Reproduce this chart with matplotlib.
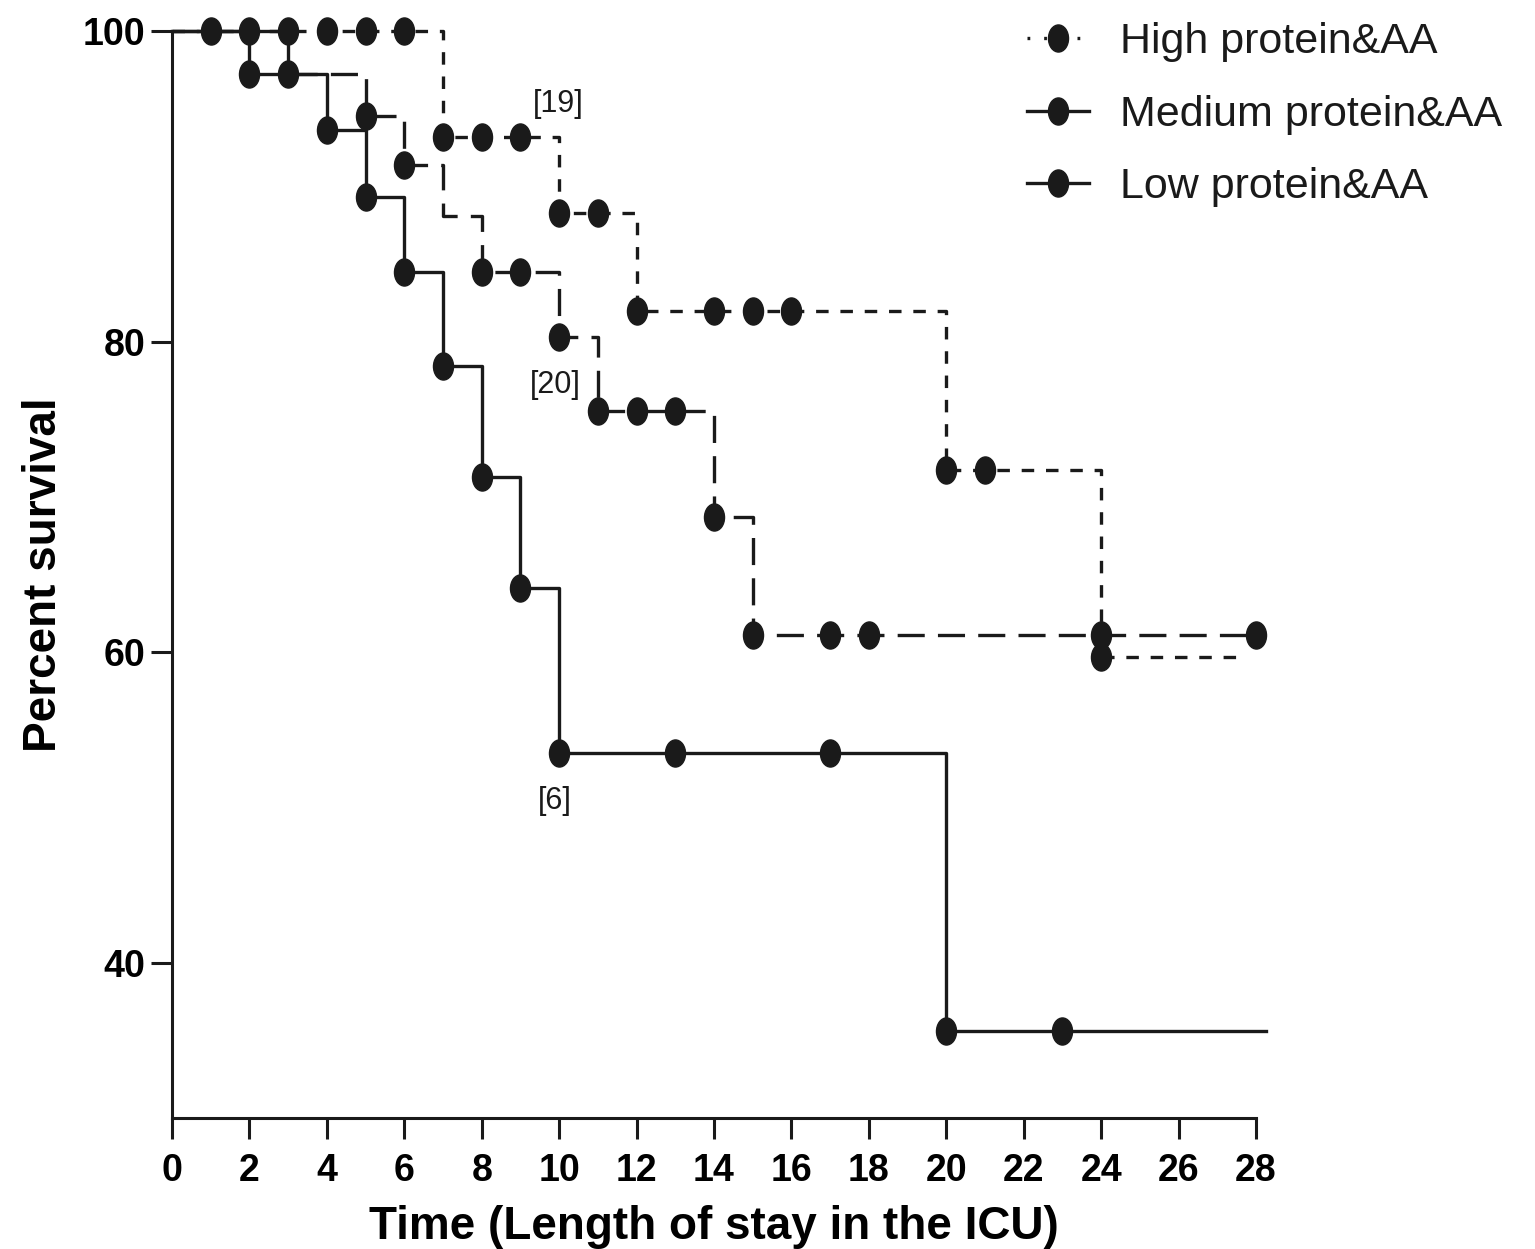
import matplotlib
matplotlib.use("Agg")
import matplotlib.pyplot as plt
from matplotlib import font_manager
from matplotlib.path import Path
from matplotlib.lines import Line2D

# ---------------- data ----------------
# Step curves: (time, percent survival) breakpoints
high_t = [0, 7, 10, 12, 20, 24, 27.6]
high_s = [100, 93.2, 88.3, 82.0, 71.7, 59.7, 59.7]
high_mark_t = [1, 2, 3, 4, 5, 6, 7, 8, 9, 10, 11, 12, 14, 15, 16, 20, 21, 24]

med_t = [0, 3, 5, 6, 7, 8, 10, 11, 14, 15, 28]
med_s = [100, 97.2, 94.5, 91.4, 88.1, 84.5, 80.3, 75.5, 68.7, 61.1, 61.1]
med_mark_t = [3, 5, 6, 8, 9, 10, 11, 12, 13, 14, 15, 17, 18, 24, 28]

low_t = [0, 2, 4, 5, 6, 7, 8, 9, 10, 20, 28.25]
low_s = [100, 97.2, 93.6, 89.3, 84.5, 78.4, 71.3, 64.1, 53.5, 35.6, 35.6]
low_mark_t = [2, 4, 5, 6, 7, 8, 9, 10, 13, 17, 20, 23]

series_names = ["High protein&AA", "Medium protein&AA", "Low protein&AA"]
annotations = [("[19]", 9.97, 95.3), ("[20]", 9.9, 77.2), ("[6]", 9.9, 50.4)]

x_ticks = list(range(0, 29, 2))
y_ticks = [40, 60, 80, 100]

# ---------------- helpers ----------------
def step_value(ts, ss, t):
    v = ss[0]
    for ti, si in zip(ts, ss):
        if t >= ti:
            v = si
    return v

avail = {f.name for f in font_manager.fontManager.ttflist}
narrow = "Liberation Sans Narrow" if "Liberation Sans Narrow" in avail else "Liberation Sans"
regular = "Liberation Sans"

plt.rcParams["lines.scale_dashes"] = False

# elliptical marker (taller than wide)
circ = Path.unit_circle()
ell = Path(circ.vertices * [0.74, 1.0], circ.codes)

INK = "#1a1a1a"
fig = plt.figure(figsize=(15.35, 12.49), dpi=100)
ax = fig.add_axes([172/1535, 1 - 1118/1249, (1256-172)/1535, (1118-31)/1249])

lw = 2.4
ms = 19.5
styles = [
    dict(dashes=(9.0, 8.5)),
    dict(dashes=(19.5, 9.5)),
    dict(linestyle="-"),
]
data = [(high_t, high_s, high_mark_t), (med_t, med_s, med_mark_t), (low_t, low_s, low_mark_t)]

for (ts, ss, mts), st in zip(data, styles):
    ax.step(ts, ss, where="post", color=INK, lw=lw, clip_on=False, **st)
    my = [step_value(ts, ss, t) for t in mts]
    ax.plot(mts, my, linestyle="none", marker=ell, markersize=ms,
            color=INK, clip_on=False, zorder=5)

for txt, x, y in annotations:
    ax.text(x, y, txt, ha="center", va="center", fontsize=22, family=regular, color=INK)

ax.set_xlim(0, 28)
ax.set_ylim(30, 100)
ax.set_xticks(x_ticks)
ax.set_yticks(y_ticks)
for s in ["top", "right"]:
    ax.spines[s].set_visible(False)
for s in ["left", "bottom"]:
    ax.spines[s].set_linewidth(2.2)
    ax.spines[s].set_color(INK)
ax.tick_params(axis="both", length=15, width=2.2, color=INK)
ax.tick_params(axis="x", pad=10)
ax.tick_params(axis="y", pad=4)
for lab in ax.get_xticklabels() + ax.get_yticklabels():
    lab.set_fontfamily(narrow)
    lab.set_fontweight("bold")
    lab.set_fontsize(27)

ax.set_xlabel("Time (Length of stay in the ICU)", fontsize=33, fontweight="bold",
              family=narrow, labelpad=12)
ax.set_ylabel("Percent survival", fontsize=33, fontweight="bold",
              family=narrow, labelpad=12)

handles = [
    Line2D([], [], color=INK, lw=lw, dashes=(2, 10), marker=ell, markersize=ms),
    Line2D([], [], color=INK, lw=lw, marker=ell, markersize=ms),
    Line2D([], [], color=INK, lw=lw, marker=ell, markersize=ms),
]
leg = fig.legend(handles, series_names, loc="upper left",
                 bbox_to_anchor=(1027/1535, 1 - 22/1249), frameon=False,
                 prop={"family": regular, "size": 31}, handlelength=1.45,
                 handletextpad=0.72, labelspacing=0.76, borderpad=0,
                 borderaxespad=0)
for t in leg.get_texts():
    t.set_color(INK)

fig.savefig("out.png", dpi=100)
